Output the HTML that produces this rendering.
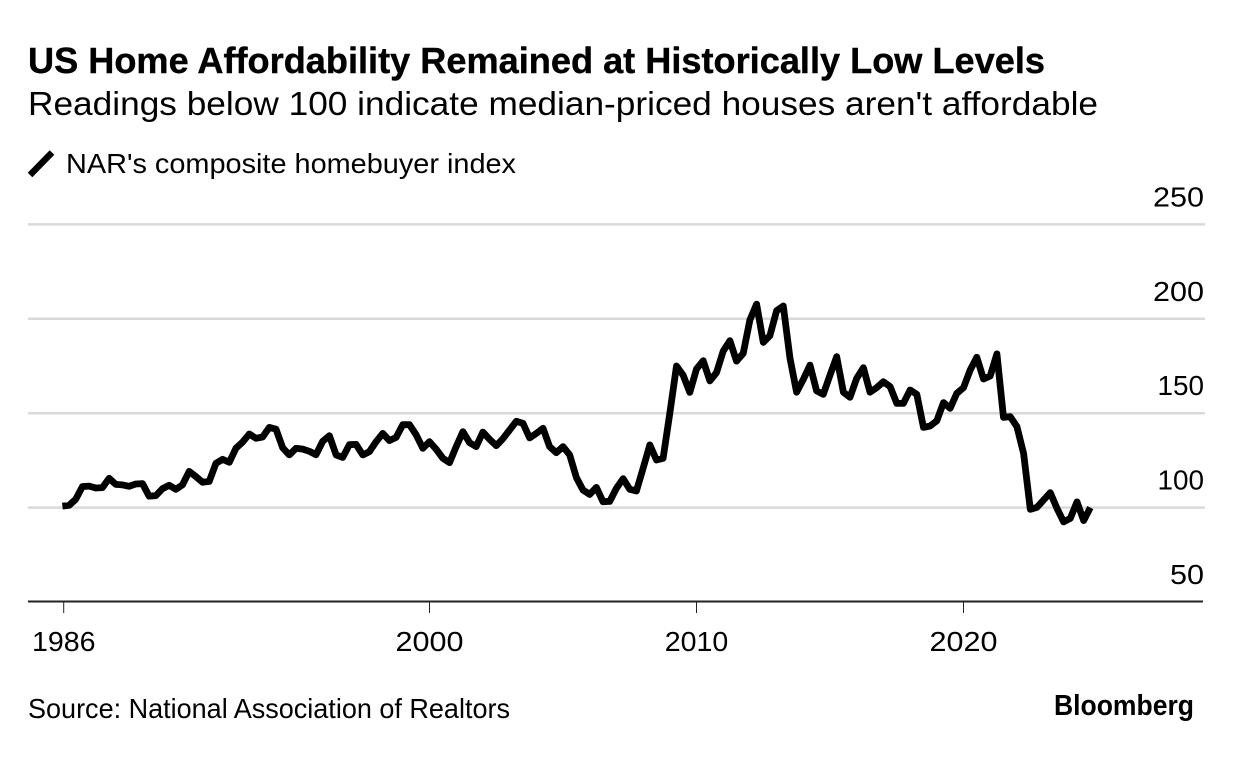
<!DOCTYPE html>
<html lang="en">
<head>
<meta charset="utf-8">
<title>US Home Affordability Remained at Historically Low Levels</title>
<style>
html,body{margin:0;padding:0;background:#fff;width:1233px;height:766px;overflow:hidden}
svg{display:block;font-family:"Liberation Sans",Arial,sans-serif;fill:#000}
</style>
</head>
<body>
<svg id="chart" xmlns="http://www.w3.org/2000/svg" width="1233" height="766" viewBox="0 0 1233 766">
  <rect x="0" y="0" width="1233" height="766" fill="#fff"/>
  <text x="28" y="73" font-size="36" font-weight="700" stroke="#000" stroke-width="0.4" textLength="1017" lengthAdjust="spacingAndGlyphs">US Home Affordability Remained at Historically Low Levels</text>
  <text x="28" y="115" font-size="33" textLength="1070" lengthAdjust="spacingAndGlyphs">Readings below 100 indicate median-priced houses aren't affordable</text>
  <g>
    <line x1="30" y1="175" x2="52" y2="152.5" stroke="#000" stroke-width="6.5"/>
    <text x="66" y="173" font-size="28" textLength="450" lengthAdjust="spacingAndGlyphs">NAR's composite homebuyer index</text>
  </g>
  <g id="grid"></g>
  <g id="yLabels"></g>
  <line x1="28" y1="601.5" x2="1203" y2="601.5" stroke="#222" stroke-width="2"/>
  <g id="xTicks"></g>
  <path id="seriesLine" fill="none" stroke="#000" stroke-width="6.8" stroke-linejoin="round" stroke-linecap="butt"/>
  <text x="28" y="718" font-size="28" textLength="482" lengthAdjust="spacingAndGlyphs">Source: National Association of Realtors</text>
  <text x="1054" y="715" font-size="29" font-weight="700" textLength="140" lengthAdjust="spacingAndGlyphs">Bloomberg</text>
</svg>
<script>
const startYear = 1986.25;
const pointsPerYear = 4;
const seriesValues = [
100.8,101.2,104.4,111.1,111.4,110.4,110.6,115.5,112.3,112.0,
111.3,112.5,112.7,106.1,106.3,110.0,111.8,109.7,112.1,119.2,
116.4,113.4,113.9,123.4,125.6,124.0,131.4,134.7,139.0,136.7,
137.4,142.5,141.5,131.7,127.9,131.4,131.0,129.8,128.0,135.1,
138.1,127.9,126.6,133.3,133.5,127.9,129.6,134.9,139.3,135.5,
137.2,143.9,143.9,138.5,131.4,134.9,130.9,126.1,123.8,132.3,
140.2,134.4,132.3,140.0,136.2,132.8,136.5,141.1,145.7,144.6,
136.9,139.3,142.0,132.3,129.1,132.3,127.9,115.9,109.3,107.0,
110.7,103.1,103.3,110.2,115.3,109.7,108.8,120.8,133.2,125.2,
126.1,149.9,175.0,170.2,161.0,173.4,177.8,167.1,171.5,182.9,
188.4,177.6,181.7,199.4,207.8,187.5,191.1,204.3,206.8,179.1,
161.1,167.9,175.5,161.8,160.0,170.2,179.9,161.1,158.4,168.5,
174.1,161.1,163.5,166.7,164.1,155.2,155.2,162.3,160.0,142.5,
143.2,146.0,155.6,152.6,160.5,163.5,172.9,179.6,168.1,169.7,
181.4,147.8,148.2,142.9,128.7,99.1,100.1,104.0,107.9,99.6,
92.4,94.3,103.0,93.1,100.0
];
const yTickValues = [50, 100, 150, 200, 250];
const yGridValues = [100, 150, 200, 250];
const xTickYears = [1986.3, 2000, 2010, 2020];
const xTickLabels = ["1986", "2000", "2010", "2020"];

const SVGNS = "http://www.w3.org/2000/svg";
function xScale(year) { return 696.5 + (year - 2010) * 26.7; }
function yScale(value) { return 602 - (value - 50) * 1.888; }
function labelWidth(label) {
  let w = 0;
  for (const ch of label) { w += ch === "1" ? 12.5 : 17; }
  return w;
}

const gridGroup = document.getElementById("grid");
yGridValues.forEach(function (v) {
  const line = document.createElementNS(SVGNS, "line");
  
  
  line.setAttribute("x1", 28);
  line.setAttribute("x2", 1205);
  line.setAttribute("y1", yScale(v));
  line.setAttribute("y2", yScale(v));
  line.setAttribute("stroke", "#d9d9d9");
  line.setAttribute("stroke-width", 2.5);
  gridGroup.appendChild(line);
});

const yLabelGroup = document.getElementById("yLabels");
yTickValues.forEach(function (v) {
  const label = String(v);
  const t = document.createElementNS(SVGNS, "text");
  
  
  const w = labelWidth(label);
  t.setAttribute("x", 1204 - w);
  t.setAttribute("y", yScale(v) - 18);
  t.setAttribute("font-size", 28);
  t.setAttribute("textLength", w);
  t.setAttribute("lengthAdjust", "spacingAndGlyphs");
  t.textContent = label;
  yLabelGroup.appendChild(t);
});

const xTickGroup = document.getElementById("xTicks");
xTickYears.forEach(function (year, i) {
  const px = xScale(year);
  const tick = document.createElementNS(SVGNS, "line");
  
  
  tick.setAttribute("x1", px);
  tick.setAttribute("x2", px);
  tick.setAttribute("y1", 602);
  tick.setAttribute("y2", 613);
  tick.setAttribute("stroke", "#222");
  tick.setAttribute("stroke-width", 1);
  xTickGroup.appendChild(tick);
  const t = document.createElementNS(SVGNS, "text");
  
  
  const w = labelWidth(xTickLabels[i]);
  t.setAttribute("x", px - w / 2);
  t.setAttribute("y", 651);
  t.setAttribute("font-size", 28);
  t.setAttribute("textLength", w);
  t.setAttribute("lengthAdjust", "spacingAndGlyphs");
  t.textContent = xTickLabels[i];
  xTickGroup.appendChild(t);
});

let d = "";
seriesValues.forEach(function (v, i) {
  const year = startYear + i / pointsPerYear;
  d += (i === 0 ? "M" : "L") + xScale(year).toFixed(1) + " " + yScale(v).toFixed(1);
});
document.getElementById("seriesLine").setAttribute("d", d);
</script>
</body>
</html>
